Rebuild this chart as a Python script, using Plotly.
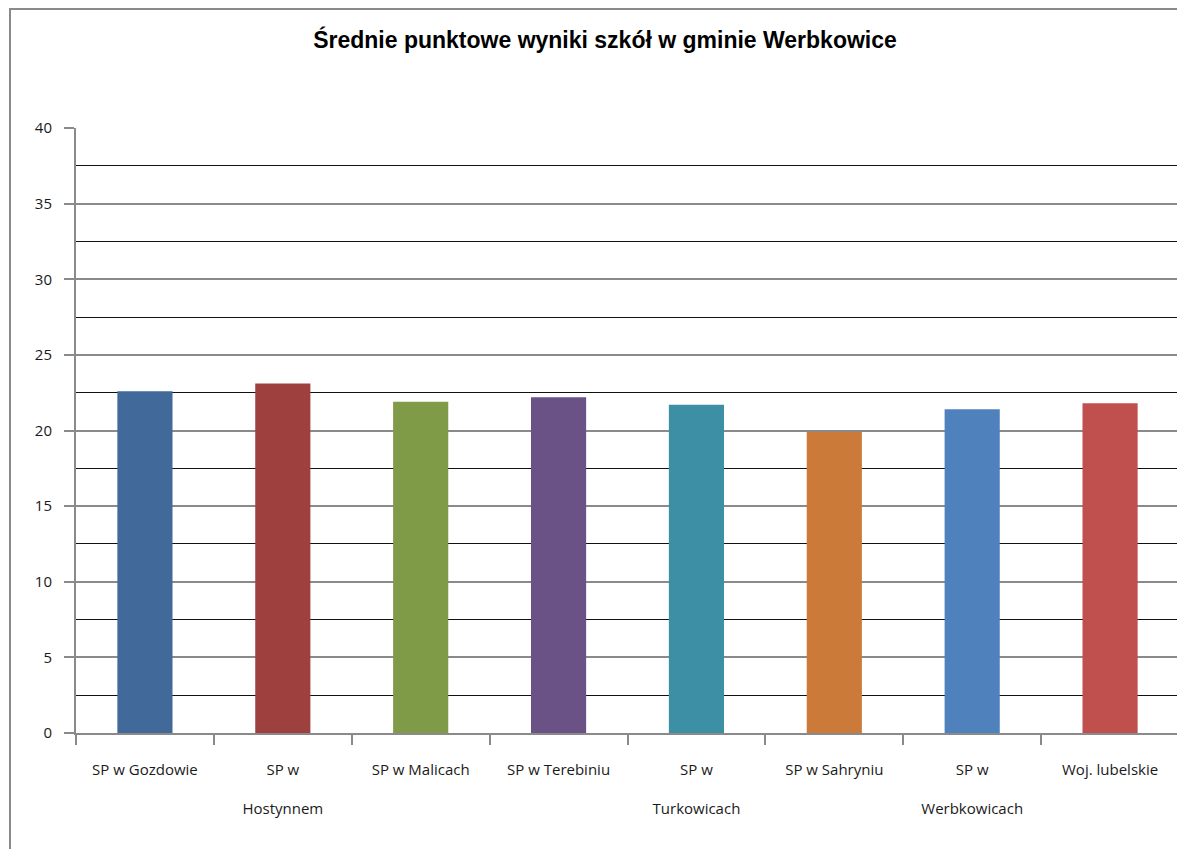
import plotly.graph_objects as go

categories = ["SP w Gozdowie", "SP w<br><br>Hostynnem", "SP w Malicach", "SP w Terebiniu",
              "SP w<br><br>Turkowicach", "SP w Sahryniu", "SP w<br><br>Werbkowicach", "Woj. lubelskie"]
values = [22.6, 23.1, 21.9, 22.2, 21.7, 19.9, 21.4, 21.8]
colors = ["#416a9b", "#9e413e", "#809b48", "#6a5287", "#3d8fa5", "#cb7a3a", "#4f81bd", "#c0504d"]
y_ticks = [0, 5, 10, 15, 20, 25, 30, 35, 40]

fig = go.Figure(go.Bar(x=categories, y=values, marker=dict(color=colors, line=dict(width=0)),
                       showlegend=False, hoverinfo="x+y"))

# the page body adds an 8px offset; work in figure coordinates
W, H = 1177, 841
L, R, T, B = 68, 1171, 120, 725
fig.update_layout(
    width=W, height=H,
    margin=dict(l=L, r=W - R, t=T, b=H - B, autoexpand=False),
    paper_bgcolor="white", plot_bgcolor="white",
    bargap=0.6,
    title=dict(text="<b>Średnie punktowe wyniki szkół w gminie Werbkowice</b>",
               x=597 / W, xanchor="center", y=1 - 32 / H, yanchor="middle",
               font=dict(family="Liberation Sans, Arial", size=23, color="#000000")),
    font=dict(family="Open Sans, Liberation Sans", size=15, color="#1a1a1a"),
)
fig.update_xaxes(
    type="category", showline=True, linecolor="#8a8a8a", linewidth=2,
    ticks="outside", tickson="boundaries", ticklen=10, tickcolor="#8a8a8a", tickwidth=2,
    showgrid=False, tickfont=dict(size=15, color="#1a1a1a"), ticklabelstandoff=22,
    mirror=False,
)
fig.update_yaxes(
    range=[0, 40], tickvals=y_ticks, ticktext=[str(v) for v in y_ticks],
    showline=True, linecolor="#8a8a8a", linewidth=2,
    ticks="outside", ticklen=10, tickcolor="#8a8a8a", tickwidth=2,
    showgrid=True, gridcolor="#8a8a8a", gridwidth=2,
    minor=dict(dtick=2.5, tick0=0, showgrid=True, gridcolor="#111111", gridwidth=1.3, ticks=""),
    zeroline=False, tickfont=dict(size=15, color="#1a1a1a"), ticklabelstandoff=9,
)
# outer chart frame
pw, ph = R - L, B - T
fig.add_shape(type="rect", xref="paper", yref="paper",
              x0=(2 - L) / pw, x1=(W + 20 - L) / pw,
              y0=(B - (H + 20)) / ph, y1=(B - 1) / ph,
              line=dict(color="#8a8a8a", width=2), fillcolor="rgba(0,0,0,0)", layer="below")

fig.write_html("out.html")
